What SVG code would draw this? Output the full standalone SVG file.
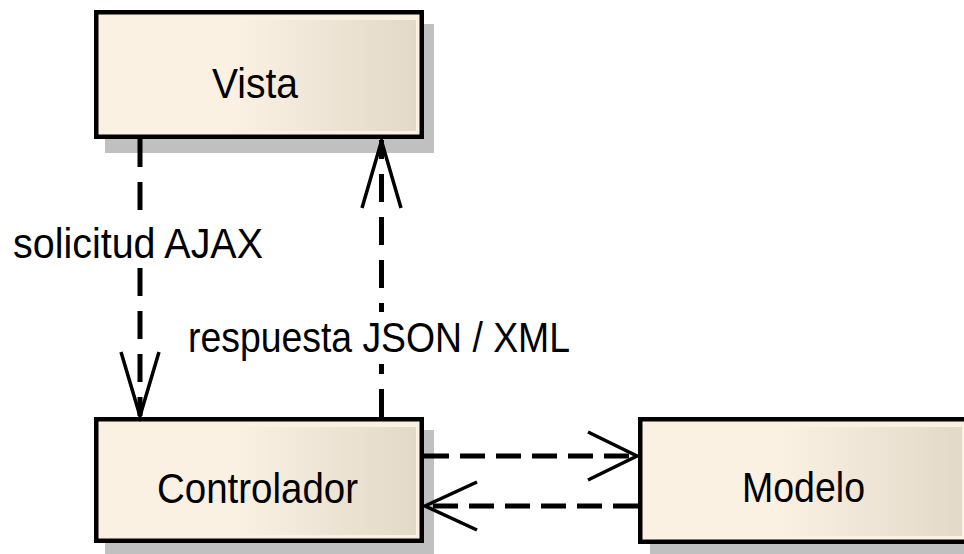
<svg xmlns="http://www.w3.org/2000/svg" width="964" height="554" viewBox="0 0 964 554">
  <defs>
    <linearGradient id="fillg" x1="0" y1="0" x2="1" y2="0">
      <stop offset="0" stop-color="#FBF1E3"/>
      <stop offset="0.42" stop-color="#FBF1E3"/>
      <stop offset="1" stop-color="#E2D9C9"/>
    </linearGradient>
  </defs>
  <style>
    .shadow { fill: #C0C0C0; }
    .box { fill: #FBF1E3; stroke: #000; stroke-width: 4.5; }
    .inner { fill: url(#fillg); }
    .lbl { font-family: "Liberation Sans", Arial, sans-serif; font-size: 42px; fill: #000; }
    .dash { fill: none; stroke: #000; stroke-width: 5; }
    .dv { stroke-dasharray: 28 15; }
    .dh { stroke-dasharray: 25 11; }
    .head { fill: none; stroke: #000; stroke-width: 3.5; stroke-linejoin: miter; }
    .bg { fill: #fff; }
  </style>
  <rect width="964" height="554" fill="#fff"/>

  <g id="node-vista">
    <rect class="shadow" x="105" y="24" width="329" height="129"/>
    <rect class="box" x="96.25" y="12.25" width="325.5" height="124.5"/>
    <rect class="inner" x="102" y="20" width="314" height="111"/>
    <text class="lbl" x="212" y="98" textLength="86" lengthAdjust="spacingAndGlyphs">Vista</text>
  </g>

  <g id="node-controlador">
    <rect class="shadow" x="105" y="430" width="329" height="130"/>
    <rect class="box" x="96.25" y="419.25" width="325.5" height="121.5"/>
    <rect class="inner" x="102" y="427" width="314" height="108"/>
    <text class="lbl" x="157" y="503" textLength="201" lengthAdjust="spacingAndGlyphs">Controlador</text>
  </g>

  <g id="node-modelo">
    <rect class="shadow" x="650" y="430" width="340" height="130"/>
    <rect class="box" x="640.25" y="419.25" width="328" height="122.5"/>
    <rect class="inner" x="646" y="427" width="316" height="109"/>
    <text class="lbl" x="742" y="502" textLength="123" lengthAdjust="spacingAndGlyphs">Modelo</text>
  </g>

  <g id="connectors">
    <line class="dash dv" x1="140" y1="139" x2="140" y2="416"/>
    <polyline class="head" points="121,352 140,416 159,352"/>

    <line class="dash dv" x1="381.5" y1="417" x2="381.5" y2="140"/>
    <polyline class="head" points="362,208 381.5,141 401,208"/>

    <line class="dash dh" x1="424" y1="456" x2="637" y2="456"/>
    <polyline class="head" points="588,432 637,456 588,480"/>

    <line class="dash dh" x1="638" y1="506" x2="425" y2="506"/>
    <polyline class="head" points="477,482 425,506 477,530"/>

    <rect class="bg" x="10" y="218" width="258" height="50"/>
    <text class="lbl" x="13" y="258" textLength="250" lengthAdjust="spacingAndGlyphs">solicitud AJAX</text>

    <rect class="bg" x="185" y="312" width="390" height="52"/>
    <text class="lbl" x="188" y="352" textLength="382" lengthAdjust="spacingAndGlyphs">respuesta JSON / XML</text>
  </g>
</svg>
